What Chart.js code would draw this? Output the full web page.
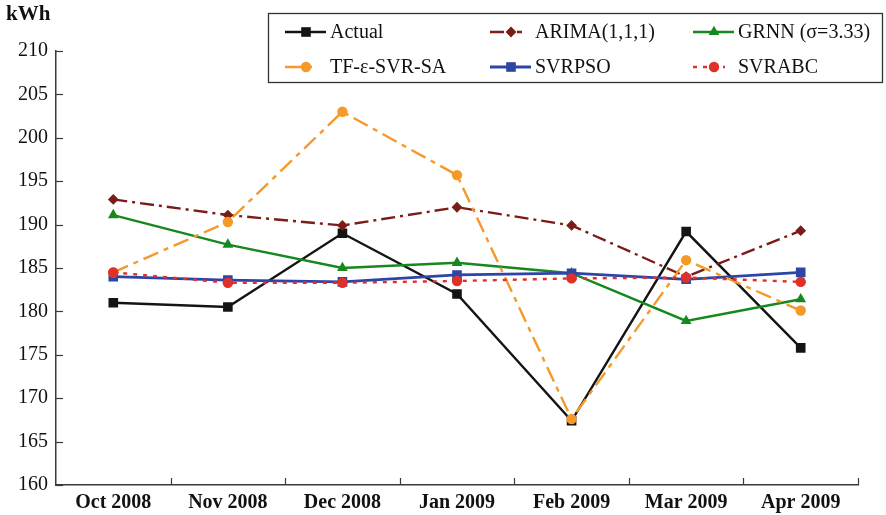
<!DOCTYPE html>
<html><head><meta charset="utf-8">
<script src="https://cdn.jsdelivr.net/npm/chart.js@4/dist/chart.umd.min.js"></script>
<style>html,body{margin:0;padding:0;background:#fff}#wrap{width:886px;height:515px;position:relative}</style>
</head><body><div id="wrap"><canvas id="c" width="886" height="515"></canvas></div>
<script>
const categories = ['Oct 2008','Nov 2008','Dec 2008','Jan 2009','Feb 2009','Mar 2009','Apr 2009'];
const actual   = [181.0, 180.5, 189.0, 182.0, 167.4, 189.2, 175.8];
const arima    = [192.9, 191.1, 189.9, 192.0, 189.9, 184.0, 189.3];
const grnn     = [191.1, 187.7, 185.0, 185.6, 184.4, 178.9, 181.4];
const tfSvrSa  = [184.5, 190.3, 203.0, 195.7, 167.6, 185.9, 180.1];
const svrPso   = [184.0, 183.6, 183.4, 184.2, 184.4, 183.7, 184.5];
const svrAbc   = [184.5, 183.3, 183.3, 183.5, 183.8, 183.9, 183.4];
const seriesNames = ['Actual','ARIMA(1,1,1)','GRNN (\u03c3=3.33)','TF-\u03b5-SVR-SA','SVRPSO','SVRABC'];
const yMin = 160, yMax = 210, yStep = 5;
const yUnit = 'kWh';

const SERIF = '"Liberation Serif", "Times New Roman", serif';

function ds(label, data, color, dash, style, radius, order, width) {
  return {
    label, data, borderColor: color, backgroundColor: color,
    borderWidth: width || 2.4, borderDash: dash, pointStyle: style,
    pointRadius: radius, pointBorderWidth: 0, pointHoverRadius: radius,
    tension: 0, fill: false, order
  };
}

const datasets = [
  ds(seriesNames[0], actual,  '#141414', [], 'rect', 6.8, 6),
  ds(seriesNames[1], arima,   '#7b1c18', [14,5,3,5], 'rectRot', 5.4, 5),
  ds(seriesNames[2], grnn,    '#17881f', [], 'triangle', 6.2, 4),
  ds(seriesNames[3], tfSvrSa, '#f5992a', [16,6,5,6], 'circle', 5.2, 2),
  ds(seriesNames[4], svrPso,  '#2e45a5', [], 'rect', 6.8, 3, 2.8),
  ds(seriesNames[5], svrAbc,  '#e0302a', [4,6], 'circle', 5.2, 1)
];

const decor = {
  id: 'decor',
  afterDraw(chart) {
    const ctx = chart.ctx;
    const x = chart.scales.x, y = chart.scales.y;
    const ca = chart.chartArea;
    ctx.save();
    ctx.strokeStyle = '#3a3a3a';
    ctx.lineWidth = 1.2;
    ctx.setLineDash([]);
    y.ticks.forEach(t => {
      const py = Math.round(y.getPixelForValue(t.value)) + 0.5;
      ctx.beginPath(); ctx.moveTo(ca.left, py); ctx.lineTo(ca.left + 7, py); ctx.stroke();
    });
    for (let i = 1; i <= categories.length; i++) {
      const px = Math.round(x.getPixelForValue(i - 0.5)) + 0.5;
      ctx.beginPath(); ctx.moveTo(px, ca.bottom); ctx.lineTo(px, ca.bottom - 7); ctx.stroke();
    }
    ctx.fillStyle = '#111';
    ctx.font = 'bold 21px ' + SERIF;
    ctx.textAlign = 'left'; ctx.textBaseline = 'middle';
    ctx.fillText(yUnit, 6, 15);

    const bx = 268, by = 13, bw = 614, bh = 69;
    ctx.fillStyle = '#fff';
    ctx.fillRect(bx, by, bw, bh);
    ctx.strokeStyle = '#333'; ctx.lineWidth = 1.3;
    ctx.strokeRect(bx + 0.5, by + 0.5, bw, bh);
    const cols = [285, 490, 693], rows = [32, 67];
    chart.data.datasets.forEach((d, i) => {
      const cx = cols[i % 3], cy = rows[Math.floor(i / 3)];
      const len = d.borderDash.length ? 32 : 41;
      ctx.save();
      ctx.strokeStyle = d.borderColor; ctx.lineWidth = d.borderWidth;
      ctx.setLineDash(d.borderDash);
      ctx.beginPath(); ctx.moveTo(cx, cy); ctx.lineTo(cx + len, cy); ctx.stroke();
      ctx.setLineDash([]);
      ctx.fillStyle = d.backgroundColor;
      Chart.helpers.drawPoint(ctx, { pointStyle: d.pointStyle, radius: d.pointRadius, borderWidth: 0, rotation: 0 }, cx + 21, cy);
      ctx.fillStyle = '#111';
      ctx.font = '20px ' + SERIF;
      ctx.textAlign = 'left'; ctx.textBaseline = 'middle';
      ctx.fillText(d.label, cx + 45, cy + 1);
      ctx.restore();
    });
    ctx.restore();
  }
};

new Chart(document.getElementById('c'), {
  type: 'line',
  data: { labels: categories, datasets },
  options: {
    responsive: false, animation: false, devicePixelRatio: 1,
    layout: { padding: { top: 51, right: 28, left: 0, bottom: 0 } },
    plugins: { legend: { display: false }, tooltip: { enabled: false }, title: { display: false } },
    scales: {
      x: {
        type: 'category', offset: true,
        grid: { display: false, drawTicks: false },
        border: { display: true, color: '#3a3a3a', width: 1.5 },
        ticks: { color: '#111', font: { family: SERIF, size: 20, weight: 'bold' }, padding: 6, maxRotation: 0, autoSkip: false },
        afterFit(s) { s.height = 30; }
      },
      y: {
        min: yMin, max: yMax,
        grid: { display: false, drawTicks: false },
        border: { display: true, color: '#3a3a3a', width: 1.5 },
        ticks: { stepSize: yStep, color: '#111', font: { family: SERIF, size: 20 }, padding: 8 },
        afterFit(s) { s.width = 56; }
      }
    }
  },
  plugins: [decor]
});
</script>
</body></html>
